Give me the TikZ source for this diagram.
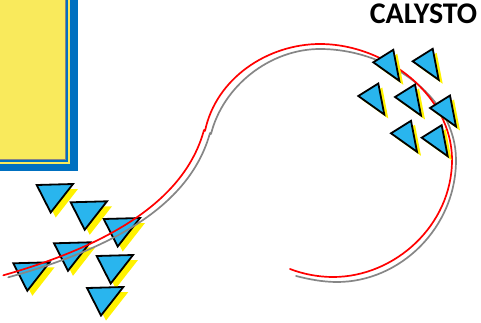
\documentclass[tikz,border=0pt]{standalone}
\usepackage{fontspec}
\setmainfont{Carlito}
\definecolor{panelblue}{HTML}{0070C0}
\definecolor{panelyellow}{HTML}{F9EA5C}
\definecolor{trifill}{HTML}{29B5EE}
\definecolor{curvegray}{HTML}{868686}
\tikzset{
  tri/.style={draw=black,line width=1.8pt,line join=miter,fill=trifill},
  trishadow/.style={fill=yellow},
  redcurve/.style={draw=red,line width=1.7pt,line cap=round},
  graycurve/.style={draw=curvegray,line width=1.7pt,line cap=round},
}
\newcommand{\lowtri}[2]{%
  \fill[trishadow] (#1+5,#2+5) -- ++(36.3,-1) -- ++(-22.3,28.5) -- cycle;
  \draw[tri] (#1,#2) -- ++(36.3,-1) -- ++(-22.3,28.5) -- cycle;}
\newcommand{\uptri}[2]{%
  \fill[trishadow] (#1+4,#2+4) -- ++(20,-12.5) -- ++(6,31) -- cycle;
  \draw[tri] (#1,#2) -- ++(20,-12.5) -- ++(6,31) -- cycle;}
\begin{document}
\begin{tikzpicture}[x=1pt,y=-1pt]
\useasboundingbox (0,0) rectangle (481,323);
% panel
\fill[panelblue] (0,0) rectangle (77.5,171);
\fill[panelyellow] (0,0) rectangle (70.3,164);
\fill[panelblue] (0,0) rectangle (68,161.8);
\fill[panelyellow] (0,0) rectangle (65.6,159.4);
\draw[curvegray,line width=0.6pt] (65.6,0) -- (65.6,159.4) -- (0,159.4);
% lower-left group
\lowtri{36.7}{185}
\lowtri{70.7}{202.3}
\lowtri{103.7}{219}
\lowtri{54}{243.3}
\lowtri{13.3}{263.3}
\lowtri{96.7}{256}
\lowtri{87}{288}
% curves
\draw[graycurve] (8.3,277.3) .. controls (114,248) and (190,205) .. (210,133)
  (211,134) .. controls (223,86) and (270,49) .. (320,49)
  .. controls (388,49) and (456,97) .. (456,160)
  .. controls (456,228) and (400,282) .. (337,282)
  .. controls (322,282) and (308,279) .. (296,276);
\draw[redcurve] (3.3,275.3) .. controls (110,245) and (185,200) .. (204,130)
  (205,131) .. controls (216,78) and (268,44) .. (320,44)
  .. controls (385,44) and (452,95) .. (452,160)
  .. controls (452,225) and (395,277) .. (333,277)
  .. controls (318,277) and (303,274) .. (290,269);
% upper-right group
\uptri{373.3}{62.3}
\uptri{412.7}{61.3}
\uptri{358.3}{96}
\uptri{395}{97}
\uptri{430}{108}
\uptri{391}{133.3}
\uptri{421.7}{137.7}
\node[inner sep=0pt,font=\fontsize{30}{30}\selectfont\bfseries] (title) at (423.5,14) {CALYSTO};
\end{tikzpicture}
\end{document}
